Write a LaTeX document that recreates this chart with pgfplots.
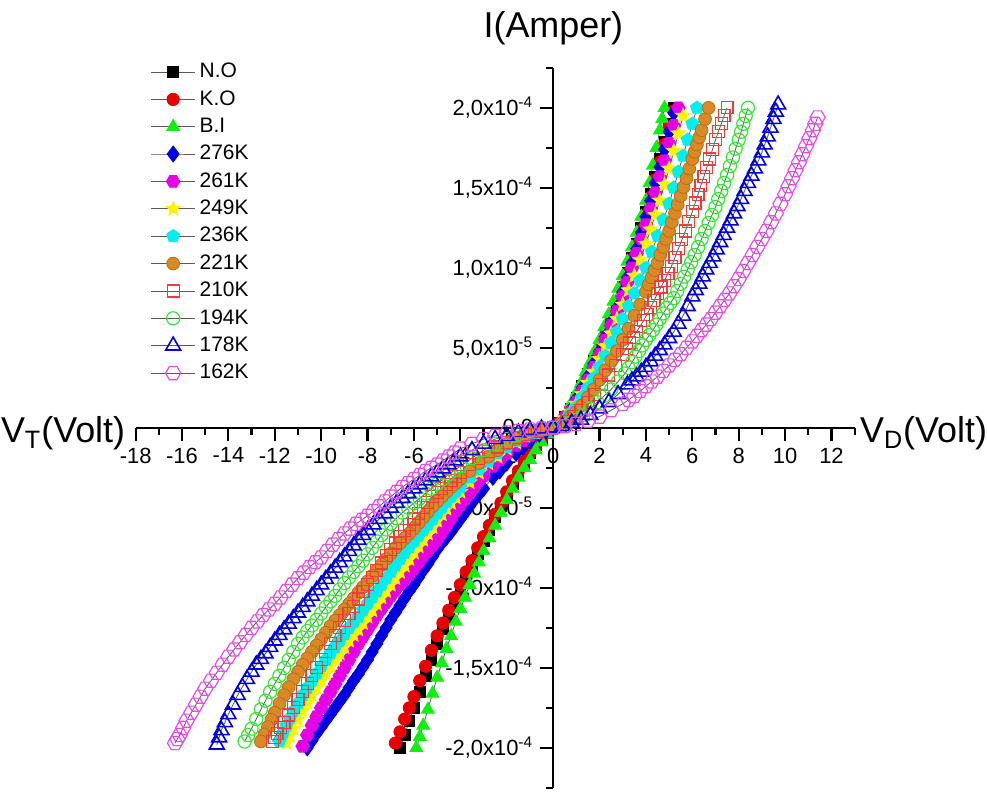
\documentclass[border=0pt]{standalone}
\usepackage{fontspec}
\setmainfont{Liberation Sans}
\usepackage{pgfplots}
\pgfplotsset{compat=1.18}
\usetikzlibrary{plotmarks}

\definecolor{cNO}{HTML}{000000}
\definecolor{cKO}{HTML}{E80000}
\definecolor{cBI}{HTML}{11EE11}
\definecolor{c276}{HTML}{0000E0}
\definecolor{c261}{HTML}{E600E6}
\definecolor{c249}{HTML}{FFF200}
\definecolor{c236}{HTML}{00EEEE}
\definecolor{c221}{HTML}{D98A26}
\definecolor{c221d}{HTML}{B86E14}
\definecolor{c210}{HTML}{F03C3C}
\definecolor{c194}{HTML}{33E633}
\definecolor{c178}{HTML}{0000DD}
\definecolor{c162}{HTML}{E64CE6}

% hexagon marks (open / filled) and a filled star
\pgfdeclareplotmark{hex}{%
  \pgfpathmoveto{\pgfpointpolar{0}{\pgfplotmarksize}}%
  \pgfpathlineto{\pgfpointpolar{60}{\pgfplotmarksize}}%
  \pgfpathlineto{\pgfpointpolar{120}{\pgfplotmarksize}}%
  \pgfpathlineto{\pgfpointpolar{180}{\pgfplotmarksize}}%
  \pgfpathlineto{\pgfpointpolar{240}{\pgfplotmarksize}}%
  \pgfpathlineto{\pgfpointpolar{300}{\pgfplotmarksize}}%
  \pgfpathclose\pgfusepathqstroke}
\pgfdeclareplotmark{hex*}{%
  \pgfpathmoveto{\pgfpointpolar{0}{\pgfplotmarksize}}%
  \pgfpathlineto{\pgfpointpolar{60}{\pgfplotmarksize}}%
  \pgfpathlineto{\pgfpointpolar{120}{\pgfplotmarksize}}%
  \pgfpathlineto{\pgfpointpolar{180}{\pgfplotmarksize}}%
  \pgfpathlineto{\pgfpointpolar{240}{\pgfplotmarksize}}%
  \pgfpathlineto{\pgfpointpolar{300}{\pgfplotmarksize}}%
  \pgfpathclose\pgfusepathqfillstroke}
\pgfdeclareplotmark{fstar}{%
  \pgfpathmoveto{\pgfpointpolar{90}{\pgfplotmarksize}}%
  \pgfpathlineto{\pgfpointpolar{126}{0.45\pgfplotmarksize}}%
  \pgfpathlineto{\pgfpointpolar{162}{\pgfplotmarksize}}%
  \pgfpathlineto{\pgfpointpolar{198}{0.45\pgfplotmarksize}}%
  \pgfpathlineto{\pgfpointpolar{234}{\pgfplotmarksize}}%
  \pgfpathlineto{\pgfpointpolar{270}{0.45\pgfplotmarksize}}%
  \pgfpathlineto{\pgfpointpolar{306}{\pgfplotmarksize}}%
  \pgfpathlineto{\pgfpointpolar{342}{0.45\pgfplotmarksize}}%
  \pgfpathlineto{\pgfpointpolar{18}{\pgfplotmarksize}}%
  \pgfpathlineto{\pgfpointpolar{54}{0.45\pgfplotmarksize}}%
  \pgfpathclose\pgfusepathqfillstroke}

\pgfplotsset{
  ln/.style={draw=black!65,line width=0.4pt},
  sNO/.style={ln,mark=square*,mark size=2.7pt,mark options={solid,draw=cNO,fill=cNO}},
  sKO/.style={ln,mark=*,mark size=3.1pt,mark options={solid,draw=cKO,fill=cKO}},
  sBI/.style={ln,mark=triangle*,mark size=3.7pt,mark options={solid,draw=cBI,fill=cBI}},
  s276/.style={ln,mark=diamond*,mark size=4pt,mark options={solid,draw=c276,fill=c276}},
  s261/.style={ln,mark=hex*,mark size=3.4pt,mark options={solid,draw=c261,fill=c261}},
  s249/.style={ln,mark=fstar,mark size=3.8pt,mark options={solid,draw=c249,fill=c249}},
  s236/.style={ln,mark=pentagon*,mark size=3.4pt,mark options={solid,draw=c236,fill=c236}},
  s221/.style={ln,mark=*,mark size=3.2pt,mark options={solid,draw=c221d,fill=c221}},
  s210/.style={ln,mark=square,mark size=3pt,mark options={solid,draw=c210,fill=white,line width=0.6pt}},
  s194/.style={ln,mark=o,mark size=3.3pt,mark options={solid,draw=c194,line width=0.6pt}},
  s178/.style={ln,mark=triangle,mark size=4.3pt,mark options={solid,draw=c178,line width=0.8pt}},
  s162/.style={ln,mark=hex,mark size=3.8pt,mark options={solid,draw=c162,line width=0.6pt}},
}

\begin{document}
\begin{tikzpicture}
\begin{axis}[
  scale only axis,width=360.5pt,height=361pt,
  axis lines=middle,axis line style={line width=1.3pt,-},
  xmin=-18,xmax=13,ymin=-225,ymax=225,
  xtick={-18,-16,...,12},minor xtick={-17,-15,...,13},
  ytick={-200,-150,...,200},minor ytick={-225,-175,...,225},
  yticklabels={{-2,0x10\textsuperscript{-4}},{-1,5x10\textsuperscript{-4}},{-1,0x10\textsuperscript{-4}},{-5,0x10\textsuperscript{-5}},{0,0},{5,0x10\textsuperscript{-5}},{1,0x10\textsuperscript{-4}},{1,5x10\textsuperscript{-4}},{2,0x10\textsuperscript{-4}}},
  scaled y ticks=false,
  hide obscured x ticks=false,hide obscured y ticks=false,
  tick align=outside,major tick length=6.5pt,minor tick length=3.5pt,
  every tick/.style={line width=1.1pt,black},
  tick label style={font=\fontsize{11}{13}\selectfont},
  /pgf/number format/assume math mode=true,
  clip=false,
  legend style={at={(axis description cs:0.012,1.018)},anchor=north west,draw=none,fill=none,
    font=\fontsize{10.5}{12}\selectfont,row sep=0.9pt,cells={anchor=west}},
  legend image code/.code={\draw[mark repeat=2,mark phase=2] plot coordinates {(0cm,0cm)(0.39cm,0cm)(0.78cm,0cm)};},
]
\path (axis description cs:-0.1886,-0.0055) rectangle (axis description cs:1.1803,1.0942);

% N.O
\addplot[sNO,forget plot] coordinates {(0,0)(-0.25,-3)(-0.5,-7)(-0.75,-11)(-1,-16)(-1.25,-22)(-1.5,-29)(-1.75,-35)(-2,-42)(-2.25,-49)(-2.5,-56)(-2.75,-64)(-3,-71)(-3.25,-79)(-3.5,-86)(-3.75,-94)(-4,-102)(-4.25,-110)(-4.5,-118)(-4.75,-126)(-5,-135)(-5.25,-145)(-5.5,-155)(-5.75,-165)(-6,-175)(-6.2,-183)(-6.4,-192)(-6.6,-200)};
\addplot[sNO] coordinates {(0,0)(0.25,3)(0.5,7)(0.75,12)(1,19)(1.25,26)(1.5,34)(1.75,42)(2,50)(2.25,59)(2.5,68)(2.75,78)(3,88)(3.2,97)(3.4,106)(3.6,115)(3.8,125)(4,135)(4.2,146)(4.4,157)(4.6,168)(4.8,179)(5,190)(5.2,200)};
\addlegendentry{N.O}
% K.O
\addplot[sKO,forget plot] coordinates {(0,0)(-0.25,-3)(-0.5,-7)(-0.75,-11)(-1,-16)(-1.25,-21)(-1.5,-27)(-1.75,-33)(-2,-40)(-2.25,-47)(-2.5,-54)(-2.75,-61)(-3,-68)(-3.25,-75)(-3.5,-83)(-3.75,-90)(-4,-98)(-4.25,-106)(-4.5,-114)(-4.75,-122)(-5,-130)(-5.25,-139)(-5.5,-149)(-5.75,-158)(-6,-168)(-6.2,-175)(-6.4,-182)(-6.6,-190)(-6.8,-197)};
\addplot[sKO] coordinates {(0,0)(0.25,3)(0.5,7)(0.75,12)(1,18)(1.25,25)(1.5,33)(1.75,41)(2,49)(2.25,58)(2.5,67)(2.75,77)(3,87)(3.2,96)(3.4,105)(3.6,114)(3.8,123)(4,133)(4.2,144)(4.4,155)(4.6,166)(4.8,177)(5,188)(5.2,198)};
\addlegendentry{K.O}
% B.I
\addplot[sBI,forget plot] coordinates {(0,0)(-0.25,-4)(-0.5,-9)(-0.75,-14)(-1,-20)(-1.25,-25)(-1.5,-31)(-1.75,-38)(-2,-45)(-2.25,-53)(-2.5,-61)(-2.75,-69)(-3,-77)(-3.2,-84)(-3.4,-91)(-3.6,-98)(-3.8,-106)(-4,-113)(-4.2,-121)(-4.4,-130)(-4.6,-138)(-4.8,-147)(-5,-156)(-5.2,-166)(-5.4,-176)(-5.6,-186)(-5.75,-193)(-5.9,-200)};
\addplot[sBI] coordinates {(0,0)(0.2,2)(0.4,5)(0.6,10)(0.8,16)(1,22)(1.2,28)(1.4,35)(1.6,41)(1.8,48)(2,55)(2.2,63)(2.4,71)(2.6,79)(2.8,87)(3,95)(3.2,104)(3.4,113)(3.6,122)(3.8,132)(4,142)(4.15,153)(4.3,164)(4.45,175)(4.6,186)(4.7,193)(4.8,200)};
\addlegendentry{B.I}
% 276K
\addplot[s276,forget plot] coordinates {(0,0)(-0.3,-2)(-0.6,-4)(-1,-8)(-1.3,-12)(-1.6,-16)(-2,-22)(-2.3,-27)(-2.6,-31)(-3,-38)(-3.2,-41.5)(-3.4,-45)(-3.6,-49)(-3.8,-53)(-4,-57)(-4.2,-61)(-4.4,-65)(-4.6,-68.5)(-4.8,-72)(-5,-76)(-5.2,-80.5)(-5.4,-85)(-5.6,-89)(-5.8,-93.5)(-6,-98)(-6.2,-102)(-6.4,-106.5)(-6.6,-111)(-6.8,-115.5)(-7,-120)(-7.2,-125)(-7.4,-130)(-7.6,-135)(-7.8,-140)(-8,-145)(-8.2,-149.5)(-8.4,-154)(-8.6,-158)(-8.8,-162.5)(-9,-167)(-9.2,-171)(-9.4,-175)(-9.6,-179)(-9.8,-183)(-10,-187)(-10.2,-191)(-10.4,-195.5)(-10.6,-200)};
\addplot[s276] coordinates {(0,0)(0.25,2)(0.5,6)(0.75,11)(1,18)(1.25,25)(1.5,32)(1.75,40)(2,48)(2.25,57)(2.5,66)(2.75,75)(3,85)(3.2,94)(3.4,103)(3.6,112)(3.8,122)(4,132)(4.2,142)(4.4,153)(4.6,163)(4.8,174)(5,185)(5.2,197)};
\addlegendentry{276K}
% 261K
\addplot[s261,forget plot] coordinates {(0,0)(-0.3,-1)(-0.6,-3)(-1,-5)(-1.3,-8)(-1.6,-11)(-2,-16)(-2.3,-20)(-2.6,-24)(-3,-30)(-3.2,-33)(-3.4,-37)(-3.6,-41)(-3.8,-44.5)(-4,-48)(-4.2,-52)(-4.4,-56.5)(-4.6,-61)(-4.8,-65.5)(-5,-70)(-5.2,-73.5)(-5.4,-77)(-5.6,-80)(-5.8,-84)(-6,-88)(-6.2,-91.5)(-6.4,-95)(-6.6,-98)(-6.8,-101.5)(-7,-105)(-7.2,-109)(-7.4,-113)(-7.6,-117)(-7.8,-121.5)(-8,-126)(-8.2,-130.5)(-8.4,-135)(-8.6,-140)(-8.8,-145)(-9,-150)(-9.2,-155)(-9.4,-160)(-9.6,-165)(-9.8,-170)(-10,-175)(-10.2,-180.5)(-10.4,-186)(-10.6,-192)(-10.8,-199)};
\addplot[s261] coordinates {(0,0)(0.25,2)(0.5,6)(0.75,10)(1,16)(1.25,23)(1.5,30)(1.75,38)(2,46)(2.25,55)(2.5,64)(2.75,73)(3,82)(3.2,91)(3.4,100)(3.6,109)(3.8,118)(4,127)(4.2,137)(4.4,147)(4.6,157)(4.8,167)(5,178)(5.2,189)(5.4,200)};
\addlegendentry{261K}
% 249K
\addplot[s249,forget plot] coordinates {(0,0)(-0.4,-1)(-0.8,-3)(-1.2,-5)(-1.6,-9)(-2,-13)(-2.4,-18)(-2.8,-22)(-3.2,-28)(-3.6,-34)(-4,-40)(-4.2,-43.5)(-4.4,-47)(-4.6,-50.5)(-4.8,-54)(-5,-58)(-5.2,-62)(-5.4,-66)(-5.6,-70)(-5.8,-74)(-6,-78)(-6.2,-82)(-6.4,-86)(-6.6,-90)(-6.8,-94)(-7,-98)(-7.2,-102)(-7.4,-106)(-7.6,-110)(-7.8,-114)(-8,-118)(-8.2,-122)(-8.4,-126)(-8.6,-129.5)(-8.8,-133)(-9,-137)(-9.2,-141)(-9.4,-145)(-9.6,-149)(-9.8,-153.5)(-10,-158)(-10.2,-162.5)(-10.4,-167)(-10.6,-172)(-10.8,-177)(-11,-182.5)(-11.2,-188)(-11.35,-192.5)(-11.5,-197)};
\addplot[s249] coordinates {(0,0)(0.25,2)(0.5,6)(0.75,10)(1,15)(1.25,21)(1.5,28)(1.75,35)(2,43)(2.25,51)(2.5,59)(2.75,68)(3,77)(3.25,86)(3.5,95)(3.75,105)(4,115)(4.2,124)(4.4,133)(4.6,142)(4.8,152)(5,162)(5.2,173)(5.4,184)(5.6,195)};
\addlegendentry{249K}
% 236K
\addplot[s236,forget plot] coordinates {(0,0)(-0.4,-1)(-0.8,-3)(-1.2,-5)(-1.6,-8)(-2,-12)(-2.4,-16)(-2.8,-21)(-3.2,-26)(-3.6,-31)(-4,-37)(-4.2,-40)(-4.4,-43)(-4.6,-46.5)(-4.8,-50)(-5,-53.5)(-5.2,-57)(-5.4,-60.5)(-5.6,-64)(-5.8,-67.5)(-6,-71)(-6.2,-74.5)(-6.4,-78)(-6.6,-82)(-6.8,-86)(-7,-90)(-7.2,-94)(-7.4,-98)(-7.6,-102)(-7.8,-106)(-8,-110)(-8.2,-114)(-8.4,-118)(-8.6,-121.5)(-8.8,-125)(-9,-129)(-9.2,-133)(-9.4,-137)(-9.6,-141)(-9.8,-145)(-10,-149)(-10.2,-153.5)(-10.4,-158)(-10.6,-162.5)(-10.8,-167)(-11,-172)(-11.2,-177)(-11.35,-181.5)(-11.5,-186)(-11.65,-191)(-11.8,-196)};
\addplot[s236] coordinates {(0,0)(0.25,2)(0.5,5)(0.75,9)(1,13)(1.25,19)(1.5,25)(1.75,31)(2,38)(2.25,45)(2.5,53)(2.75,60)(3,68)(3.25,76)(3.5,84)(3.75,92)(4,100)(4.25,110)(4.5,120)(4.75,130)(5,140)(5.2,150)(5.4,160)(5.6,170)(5.8,180)(6,190)(6.2,200)};
\addlegendentry{236K}
% 221K
\addplot[s221,forget plot] coordinates {(0,0)(-0.4,-1)(-0.8,-2)(-1.2,-4)(-1.6,-7)(-2,-10)(-2.4,-14)(-2.8,-18)(-3.2,-22)(-3.6,-27)(-4,-32)(-4.2,-34.5)(-4.4,-37)(-4.6,-40)(-4.8,-43)(-5,-46)(-5.2,-49)(-5.4,-52.5)(-5.6,-56)(-5.8,-59.5)(-6,-63)(-6.2,-66)(-6.4,-69)(-6.6,-72)(-6.8,-75)(-7,-78.5)(-7.2,-82)(-7.4,-85.5)(-7.6,-89)(-7.8,-92.5)(-8,-96)(-8.2,-99.5)(-8.4,-103)(-8.6,-106.5)(-8.8,-110)(-9,-113.5)(-9.2,-117)(-9.4,-120.5)(-9.6,-124)(-9.8,-128)(-10,-132)(-10.2,-136)(-10.4,-140)(-10.6,-144)(-10.8,-148)(-11,-152.5)(-11.2,-157)(-11.4,-162)(-11.6,-167)(-11.8,-172.5)(-12,-178)(-12.15,-182.5)(-12.3,-187)(-12.45,-191.5)(-12.6,-196)};
\addplot[s221] coordinates {(0,0)(0.25,2)(0.5,4)(0.75,7)(1,10)(1.25,14)(1.5,19)(1.75,24)(2,30)(2.25,36)(2.5,42)(2.75,48)(3,55)(3.25,62)(3.5,70)(3.75,77)(4,85)(4.12,89.5)(4.25,94)(4.37,98.5)(4.5,103)(4.62,108)(4.75,113)(4.87,118)(5,123)(5.12,128.5)(5.25,134)(5.37,139.5)(5.5,145)(5.62,150.5)(5.75,156)(5.87,162)(6,168)(6.1,172.5)(6.2,177)(6.3,181.5)(6.4,186)(6.55,193)(6.7,200)};
\addlegendentry{221K}
% 210K
\addplot[s210,forget plot] coordinates {(0,0)(-0.4,-1)(-0.8,-2)(-1.2,-4)(-1.6,-6)(-2,-9)(-2.4,-12)(-2.8,-15)(-3.2,-19)(-3.6,-23)(-4,-28)(-4.2,-30.5)(-4.4,-33)(-4.6,-35.5)(-4.8,-38)(-5,-40.5)(-5.2,-43)(-5.4,-46.5)(-5.6,-50)(-5.8,-53.5)(-6,-57)(-6.2,-60.5)(-6.4,-64)(-6.6,-68)(-6.8,-72)(-7,-76)(-7.2,-80)(-7.4,-84.5)(-7.6,-89)(-7.8,-93.5)(-8,-98)(-8.2,-102.5)(-8.4,-107)(-8.6,-111.5)(-8.8,-116)(-9,-120.5)(-9.2,-125)(-9.4,-130)(-9.6,-135)(-9.8,-140)(-10,-145)(-10.2,-150)(-10.4,-155)(-10.6,-160)(-10.8,-165)(-11,-170)(-11.2,-175)(-11.4,-179.5)(-11.6,-184)(-11.75,-187.5)(-11.9,-191)(-12,-193.5)(-12.1,-196)};
\addplot[s210] coordinates {(0,0)(0.3,1)(0.6,4)(0.9,7)(1.2,11)(1.5,16)(1.8,21)(2.1,27)(2.4,33)(2.7,39)(3,46)(3.15,49.5)(3.3,53)(3.45,56.5)(3.6,60)(3.75,63.5)(3.9,67)(4.05,71)(4.2,75)(4.35,79.5)(4.5,84)(4.65,88)(4.8,92)(4.95,96.5)(5.1,101)(5.25,106.5)(5.4,112)(5.55,117.5)(5.7,123)(5.85,129)(6,135)(6.12,140.5)(6.25,146)(6.37,151.5)(6.5,157)(6.62,162.5)(6.75,168)(6.87,174)(7,180)(7.12,185)(7.25,190)(7.37,195)(7.5,200)};
\addlegendentry{210K}
% 194K
\addplot[s194,forget plot] coordinates {(0,0)(-0.5,-1)(-1,-2)(-1.5,-4)(-2,-7)(-2.5,-10)(-3,-14)(-3.5,-19)(-4,-24)(-4.25,-26.5)(-4.5,-29)(-4.75,-32)(-5,-35)(-5.25,-38)(-5.5,-41)(-5.75,-44)(-6,-47)(-6.25,-50)(-6.5,-53)(-6.75,-56.5)(-7,-60)(-7.2,-63.5)(-7.4,-67)(-7.6,-71)(-7.8,-75)(-8,-79)(-8.2,-83)(-8.4,-86.5)(-8.6,-90)(-8.8,-93.5)(-9,-97)(-9.2,-101)(-9.4,-105)(-9.6,-108.5)(-9.8,-112)(-10,-116)(-10.2,-120)(-10.4,-123.5)(-10.6,-127)(-10.8,-131)(-11,-135)(-11.2,-140)(-11.4,-145)(-11.6,-150)(-11.8,-155)(-12,-160)(-12.2,-165)(-12.4,-170.5)(-12.6,-176)(-12.8,-182)(-13,-188)(-13.15,-192)(-13.3,-196)};
\addplot[s194] coordinates {(0,0)(0.35,1)(0.7,3)(1,5)(1.3,8)(1.6,12)(1.9,16)(2.2,20)(2.5,24)(2.8,29)(3.1,34)(3.25,37.5)(3.4,41)(3.55,44.5)(3.7,48)(3.85,51.5)(4,55)(4.15,58)(4.3,61)(4.45,64.5)(4.6,68)(4.75,71.5)(4.9,75)(5.05,78)(5.2,81)(5.35,85.5)(5.5,90)(5.65,94.5)(5.8,99)(5.95,103.5)(6.1,108)(6.25,113)(6.4,118)(6.55,123)(6.7,128)(6.85,133)(7,138)(7.12,143)(7.25,148)(7.37,153)(7.5,158)(7.62,163.5)(7.75,169)(7.87,174.5)(8,180)(8.1,185)(8.2,190)(8.3,195)(8.4,200)};
\addlegendentry{194K}
% 178K
\addplot[s178,forget plot] coordinates {(0,0)(-0.5,-0.5)(-1,-1.5)(-1.5,-3)(-2,-5)(-2.5,-7)(-3,-10)(-3.5,-14)(-4,-18)(-4.25,-20.5)(-4.5,-23)(-4.75,-25.5)(-5,-28)(-5.25,-30.5)(-5.5,-33)(-5.75,-35.5)(-6,-38)(-6.25,-41)(-6.5,-44)(-6.75,-47)(-7,-50)(-7.25,-53.5)(-7.5,-57)(-7.75,-60.5)(-8,-64)(-8.2,-67)(-8.4,-70)(-8.6,-73.5)(-8.8,-77)(-9,-80.5)(-9.2,-84)(-9.4,-87.5)(-9.6,-91)(-9.8,-94.5)(-10,-98)(-10.2,-101.5)(-10.4,-105)(-10.6,-108.5)(-10.8,-112)(-11,-115.5)(-11.2,-119)(-11.4,-122.5)(-11.6,-126)(-11.8,-129.5)(-12,-133)(-12.2,-137)(-12.4,-141)(-12.6,-144.5)(-12.8,-148)(-13,-152.5)(-13.2,-157)(-13.4,-162)(-13.6,-167)(-13.8,-173)(-14,-179)(-14.15,-184)(-14.3,-189)(-14.4,-193.5)(-14.5,-198)};
\addplot[s178] coordinates {(0,0)(0.4,1)(0.8,3)(1.2,5)(1.6,8)(2,12)(2.4,16)(2.8,21)(3.2,27)(3.4,29.5)(3.6,32)(3.8,35)(4,38)(4.2,41.5)(4.4,45)(4.6,48.5)(4.8,52)(5,56)(5.2,60)(5.4,65)(5.6,70)(5.8,76)(6,82)(6.15,86)(6.3,90)(6.45,94.5)(6.6,99)(6.75,103)(6.9,107)(7.05,111.5)(7.2,116)(7.35,120.5)(7.5,125)(7.65,129.5)(7.8,134)(7.95,138.5)(8.1,143)(8.25,148)(8.4,153)(8.55,157.5)(8.7,162)(8.85,167)(9,172)(9.12,177)(9.25,182)(9.37,187.5)(9.5,193)(9.6,197.5)(9.7,202)};
\addlegendentry{178K}
% 162K
\addplot[s162,forget plot] coordinates {(0,0)(-0.5,-0.5)(-1,-1)(-1.5,-2)(-2,-3)(-2.5,-5)(-3,-7)(-3.5,-10)(-4,-13)(-4.25,-15.5)(-4.5,-18)(-4.75,-20.5)(-5,-23)(-5.25,-25)(-5.5,-27)(-5.75,-29.5)(-6,-32)(-6.25,-34.5)(-6.5,-37)(-6.75,-40)(-7,-43)(-7.25,-46)(-7.5,-49)(-7.75,-52)(-8,-55)(-8.25,-57.5)(-8.5,-60)(-8.75,-63)(-9,-66)(-9.25,-69.5)(-9.5,-73)(-9.75,-77)(-10,-81)(-10.25,-84)(-10.5,-87)(-10.75,-90.5)(-11,-94)(-11.25,-98)(-11.5,-102)(-11.75,-106)(-12,-110)(-12.25,-113.5)(-12.5,-117)(-12.75,-121)(-13,-125)(-13.25,-129.5)(-13.5,-134)(-13.75,-138.5)(-14,-143)(-14.25,-148)(-14.5,-153)(-14.75,-158)(-15,-163)(-15.2,-168)(-15.4,-173)(-15.6,-178)(-15.8,-183)(-15.95,-187.5)(-16.1,-192)(-16.2,-194.5)(-16.3,-197)};
\addplot[s162] coordinates {(0,0)(0.5,1)(1,2.5)(1.5,4.5)(2,7)(2.5,11)(3,15)(3.25,17.5)(3.5,20)(3.75,23)(4,26)(4.25,29)(4.5,32)(4.75,35.5)(5,39)(5.25,42.5)(5.5,46)(5.75,50)(6,54)(6.2,57.5)(6.4,61)(6.6,64.5)(6.8,68)(7,72)(7.2,76)(7.4,80)(7.6,84)(7.8,88.5)(8,93)(8.2,98)(8.4,103)(8.6,108)(8.8,113)(9,118)(9.2,123)(9.4,128.5)(9.6,134)(9.8,140)(10,146)(10.15,151)(10.3,156)(10.45,161)(10.6,166)(10.75,171)(10.9,176)(11.05,181)(11.2,186)(11.3,190)(11.4,194)};
\addlegendentry{162K}

\node[font=\fontsize{18}{20}\selectfont,anchor=base] at (axis description cs:0.581,1.042) {I(Amper)};
\node[font=\fontsize{18}{20}\selectfont,anchor=base east,inner sep=0pt] at (axis description cs:-0.014,0.479) {V\textsubscript{T}(Volt)};
\node[font=\fontsize{18}{20}\selectfont,anchor=base west,inner sep=0pt] at (axis description cs:1.007,0.479) {V\textsubscript{D}(Volt)};
\end{axis}
\end{tikzpicture}
\end{document}
